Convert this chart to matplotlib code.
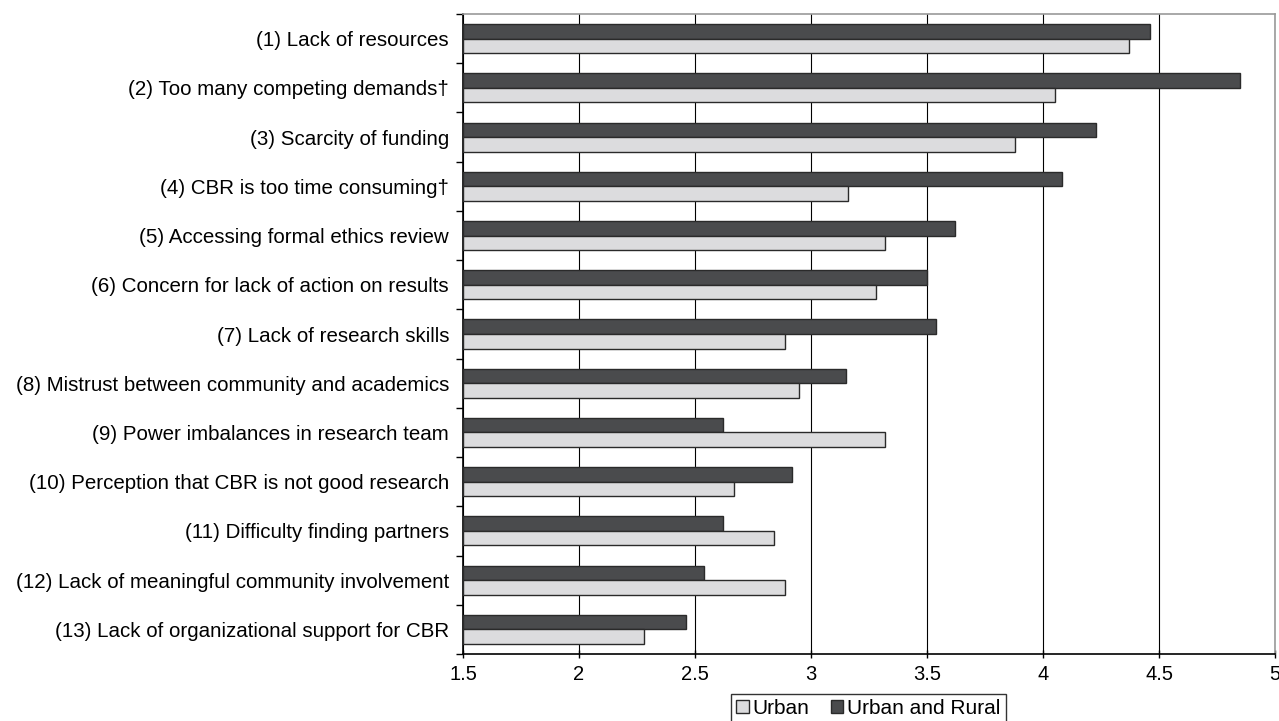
import matplotlib
matplotlib.use("Agg")
import matplotlib.pyplot as plt
import numpy as np
from matplotlib.patches import Patch

plt.rcParams["font.family"] = ["Liberation Sans", "DejaVu Sans"]

barriers = [
    "(1) Lack of resources",
    "(2) Too many competing demands\u2020",
    "(3) Scarcity of funding",
    "(4) CBR is too time consuming\u2020",
    "(5) Accessing formal ethics review",
    "(6) Concern for lack of action on results",
    "(7) Lack of research skills",
    "(8) Mistrust between community and academics",
    "(9) Power imbalances in research team",
    "(10) Perception that CBR is not good research",
    "(11) Difficulty finding partners",
    "(12) Lack of meaningful community involvement",
    "(13) Lack of organizational support for CBR",
]
urban_rural = [4.46, 4.85, 4.23, 4.08, 3.62, 3.50, 3.54, 3.15, 2.62, 2.92, 2.62, 2.54, 2.46]
urban = [4.37, 4.05, 3.88, 3.16, 3.32, 3.28, 2.89, 2.95, 3.32, 2.67, 2.84, 2.89, 2.28]
x_ticks = [1.5, 2, 2.5, 3, 3.5, 4, 4.5, 5]
x_ticklabels = ["1.5", "2", "2.5", "3", "3.5", "4", "4.5", "5"]

dark = "#4a4b4d"
light = "#dcdcde"
edge = "#2a2a2a"

fig = plt.figure(figsize=(12.79, 7.21), dpi=100)
# axes box: x 463..1275 px, y 14..654 px
ax = fig.add_axes([463 / 1279, 67 / 721, 812 / 1279, 640 / 721])

y = np.arange(len(barriers))
h = 0.295
base = 1.5
ax.barh(y - h / 2, np.array(urban_rural) - base, height=h, left=base,
        color=dark, edgecolor=edge, linewidth=1.0, zorder=3)
ax.barh(y + h / 2, np.array(urban) - base, height=h, left=base,
        color=light, edgecolor=edge, linewidth=1.0, zorder=3)

ax.set_xlim(1.5, 5)
ax.set_ylim(len(barriers) - 0.5, -0.5)
ax.set_xticks(x_ticks)
ax.set_xticklabels(x_ticklabels, fontsize=14.5)
ax.set_yticks(y)
ax.set_yticklabels(barriers, fontsize=14.8)
ax.set_yticks(np.arange(len(barriers) + 1) - 0.5, minor=True)
ax.tick_params(axis="y", which="major", length=0, pad=10)
ax.tick_params(axis="y", which="minor", length=5, width=1.0, direction="out")
ax.tick_params(axis="x", length=6, width=1.0, direction="inout", pad=5)

ax.grid(axis="x", color="black", linewidth=0.8, zorder=0)
for side in ["left", "bottom"]:
    ax.spines[side].set_color("black")
    ax.spines[side].set_linewidth(1.2)
for side in ["top", "right"]:
    ax.spines[side].set_color("#9a9a9a")
    ax.spines[side].set_linewidth(1.2)

handles = [Patch(facecolor=light, edgecolor=edge, label="Urban"),
           Patch(facecolor=dark, edgecolor=edge, label="Urban and Rural")]
leg = fig.legend(handles=handles, loc="upper left", bbox_to_anchor=(731 / 1279, 1 - 694 / 721),
                 ncol=2, fontsize=15, frameon=True, fancybox=False,
                 handlelength=0.6, handleheight=0.6, handletextpad=0.2,
                 columnspacing=1.0, borderpad=0.25, borderaxespad=0)
leg.get_frame().set_edgecolor("black")
leg.get_frame().set_linewidth(1.0)

fig.savefig("out.png", dpi=100)
